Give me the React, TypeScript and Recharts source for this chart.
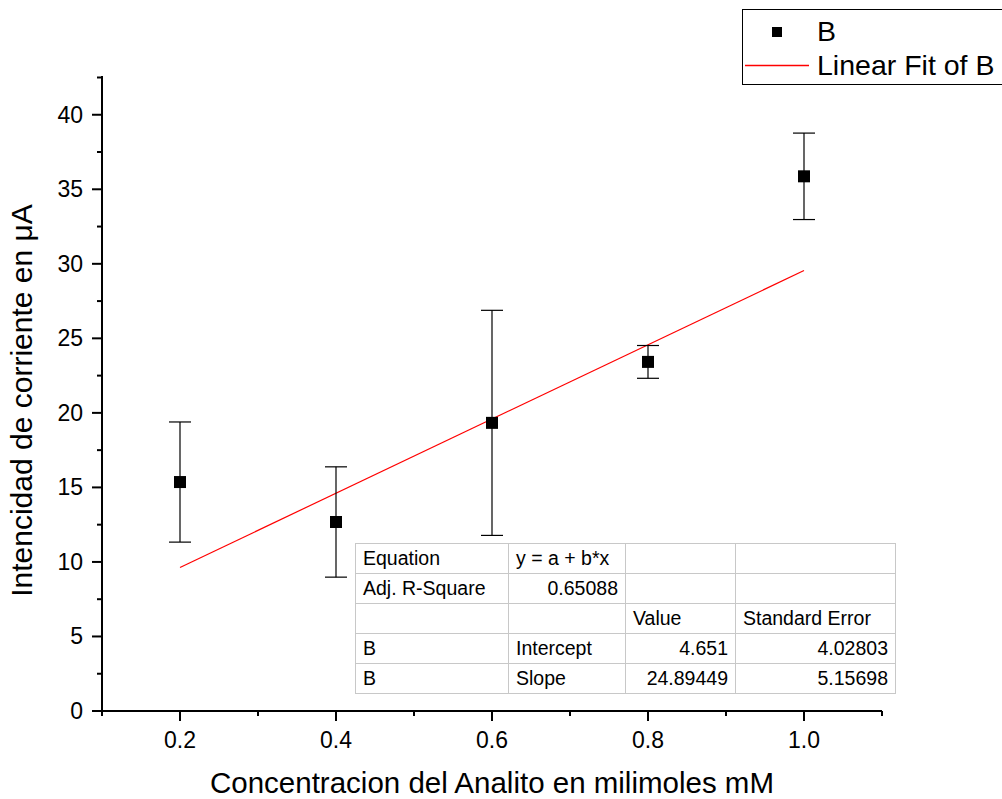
import React from 'react';
import {
  ComposedChart,
  Scatter,
  Line,
  XAxis,
  YAxis,
  ErrorBar,
  Legend,
  Label,
} from 'recharts';

const concentration = [0.2, 0.4, 0.6, 0.8, 1.0];
const current = [15.36, 12.68, 19.33, 23.42, 35.87];
const currentError = [4.03, 3.7, 7.55, 1.1, 2.9];

const fitX = [0.2, 1.0];
const fitY = [9.63, 29.55];

const xMajorTicks = [0.2, 0.4, 0.6, 0.8, 1.0];
const xMinorTicks = [0.1, 0.3, 0.5, 0.7, 0.9, 1.1];
const yMajorTicks = [0, 5, 10, 15, 20, 25, 30, 35, 40];
const yMinorTicks = [2.5, 7.5, 12.5, 17.5, 22.5, 27.5, 32.5, 37.5, 42.5];

const tableRows = [
  ['Equation', 'y = a + b*x', '', ''],
  ['Adj. R-Square', '0.65088', '', ''],
  ['', '', 'Value', 'Standard Error'],
  ['B', 'Intercept', '4.651', '4.02803'],
  ['B', 'Slope', '24.89449', '5.15698'],
];

const points = concentration.map((x, i) => ({ x, y: current[i], err: currentError[i] }));
const fitLine = fitX.map((x, i) => ({ x, fit: fitY[i] }));

const FONT = "Arial, 'Liberation Sans', sans-serif";

const isMajor = (list: number[], v: number) => list.some((m) => Math.abs(m - v) < 1e-6);

const YTick = (props: any) => {
  const { x, y, payload } = props;
  const major = isMajor(yMajorTicks, payload.value);
  return (
    <g>
      <line x1={x} x2={x - (major ? 10 : 5)} y1={y} y2={y} stroke="#000" strokeWidth={2} />
      {major && (
        <text x={x - 19} y={y} textAnchor="end" dominantBaseline="central" fontSize={23} fontFamily={FONT} fill="#000">
          {payload.value}
        </text>
      )}
    </g>
  );
};

const XTick = (props: any) => {
  const { x, y, payload } = props;
  const major = isMajor(xMajorTicks, payload.value);
  return (
    <g>
      <line x1={x} x2={x} y1={y} y2={y + (major ? 10 : 5)} stroke="#000" strokeWidth={2} />
      {major && (
        <text x={x} y={y + 29} textAnchor="middle" dominantBaseline="central" fontSize={23} fontFamily={FONT} fill="#000">
          {payload.value.toFixed(1)}
        </text>
      )}
    </g>
  );
};

const SquareDot = (props: any) => {
  const { cx, cy } = props;
  return <rect x={cx - 6} y={cy - 6} width={12} height={12} fill="#000" />;
};

const LegendBox = () => (
  <div
    style={{
      width: 270,
      height: 74,
      border: '1px solid #000',
      background: '#fff',
      fontFamily: FONT,
      fontSize: 28.5,
      color: '#000',
      position: 'relative',
    }}
  >
    <svg width={80} height={74} style={{ position: 'absolute', left: 0, top: 0 }}>
      <rect x={29} y={17} width={10} height={10} fill="#000" />
      <line x1={2} x2={66} y1={55.5} y2={55.5} stroke="#ff0000" strokeWidth={1.5} />
    </svg>
    <div style={{ position: 'absolute', left: 74, top: 5, lineHeight: '32px' }}>B</div>
    <div style={{ position: 'absolute', left: 74, top: 39, lineHeight: '32px' }}>Linear Fit of B</div>
  </div>
);

const colWidths = [153, 117, 110, 160];
const rightAligned = (r: number, c: number) => (r === 1 && c === 1) || (r >= 3 && c >= 2);

export default function App() {
  return (
    <div style={{ position: 'absolute', left: 0, top: 0, width: 1002, height: 799, background: '#fff', overflow: 'hidden' }}>
      <ComposedChart width={1002} height={799} margin={{ top: 76, right: 120, bottom: 0, left: 0 }}>
        <XAxis
          type="number"
          dataKey="x"
          domain={[0.1, 1.1]}
          ticks={[...xMinorTicks, ...xMajorTicks].sort((a, b) => a - b)}
          interval={0}
          allowDataOverflow
          height={88}
          tickSize={0}
          tickMargin={0}
          tickLine={false}
          tick={<XTick />}
          axisLine={{ stroke: '#000', strokeWidth: 2 }}
        >
          <Label
            value="Concentracion del Analito en milimoles mM"
            position="insideBottom"
            offset={6}
            style={{ fontSize: 29.5, fontFamily: FONT, fill: '#000' }}
          />
        </XAxis>
        <YAxis
          type="number"
          domain={[0, 42.6]}
          ticks={[...yMajorTicks, ...yMinorTicks].sort((a, b) => a - b)}
          interval={0}
          allowDataOverflow
          width={102}
          tickSize={0}
          tickMargin={0}
          tickLine={false}
          tick={<YTick />}
          axisLine={{ stroke: '#000', strokeWidth: 2 }}
        >
          <Label
            value="Intencidad de corriente en μA"
            angle={-90}
            position="insideLeft"
            offset={21}
            dy={7}
            style={{ fontSize: 30, fontFamily: FONT, fill: '#000', textAnchor: 'middle' }}
          />
        </YAxis>
        <Legend
          layout="horizontal"
          verticalAlign="middle"
          align="center"
          content={() => <LegendBox />}
          wrapperStyle={{ position: 'absolute', left: 742, top: 9, width: 272, height: 76 }}
        />
        <Line
          data={fitLine}
          dataKey="fit"
          stroke="#ff0000"
          strokeWidth={1.2}
          dot={false}
          isAnimationActive={false}
          legendType="none"
        />
        <Scatter data={points} dataKey="y" fill="#000" shape={<SquareDot />} isAnimationActive={false}>
          <ErrorBar dataKey="err" direction="y" width={11} stroke="#000" strokeWidth={1.2} />
        </Scatter>
      </ComposedChart>
      <table
        style={{
          position: 'absolute',
          left: 355,
          top: 543,
          borderCollapse: 'collapse',
          border: '1px solid #333',
          fontFamily: FONT,
          fontSize: 19.5,
          background: '#fff',
          tableLayout: 'fixed',
        }}
      >
        <colgroup>
          {colWidths.map((w, i) => (
            <col key={i} style={{ width: w }} />
          ))}
        </colgroup>
        <tbody>
          {tableRows.map((row, r) => (
            <tr key={r} style={{ height: 30 }}>
              {row.map((cell, c) => (
                <td
                  key={c}
                  style={{
                    border: '1px solid #c8c8c8',
                    padding: '0 7px',
                    textAlign: rightAligned(r, c) ? 'right' : 'left',
                    whiteSpace: 'nowrap',
                    lineHeight: '29px',
                    height: 29,
                  }}
                >
                  {cell}
                </td>
              ))}
            </tr>
          ))}
        </tbody>
      </table>
    </div>
  );
}
